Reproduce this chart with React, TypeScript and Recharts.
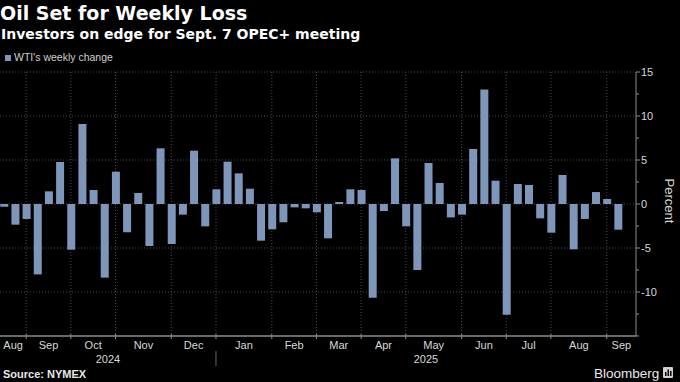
import { BarChart, Bar, XAxis, YAxis, CartesianGrid } from "recharts";

// weekly WTI % change, week ending Friday
const weeks = [
  "2024-08-16", "2024-08-23", "2024-08-30", "2024-09-06", "2024-09-13", "2024-09-20", "2024-09-27",
  "2024-10-04", "2024-10-11", "2024-10-18", "2024-10-25", "2024-11-01", "2024-11-08", "2024-11-15",
  "2024-11-22", "2024-11-29", "2024-12-06", "2024-12-13", "2024-12-20", "2024-12-27", "2025-01-03",
  "2025-01-10", "2025-01-17", "2025-01-24", "2025-01-31", "2025-02-07", "2025-02-14", "2025-02-21",
  "2025-02-28", "2025-03-07", "2025-03-14", "2025-03-21", "2025-03-28", "2025-04-04", "2025-04-11",
  "2025-04-18", "2025-04-25", "2025-05-02", "2025-05-09", "2025-05-16", "2025-05-23", "2025-05-30",
  "2025-06-06", "2025-06-13", "2025-06-20", "2025-06-27", "2025-07-04", "2025-07-11", "2025-07-18",
  "2025-07-25", "2025-08-01", "2025-08-08", "2025-08-15", "2025-08-22", "2025-08-29", "2025-09-05",
];

const changes = [
  -0.3, -2.35, -1.7, -8.0, 1.44, 4.77, -5.19, 9.09, 1.59, -8.37,
  3.67, -3.22, 1.25, -4.77, 6.33, -4.55, -1.21, 6.06, -2.54, 1.67,
  4.81, 3.48, 1.74, -4.17, -2.88, -2.08, -0.38, -0.49, -0.95, -3.9,
  0.23, 1.67, 1.59, -10.64, -0.8, 5.19, -2.54, -7.5, 4.66, 2.39,
  -1.52, -1.21, 6.25, 13.0, 2.65, -12.58, 2.27, 2.16, -1.63, -3.26,
  3.3, -5.15, -1.7, 1.36, 0.57, -2.92,
];

const monthLabels = ["Aug", "Sep", "Oct", "Nov", "Dec", "Jan", "Feb", "Mar", "Apr", "May", "Jun", "Jul", "Aug", "Sep"];
const yearLabels = ["2024", "2025"];
const yMajor = [15, 10, 5, 0, -5, -10];
const yTicks = [15, 12.5, 10, 7.5, 5, 2.5, 0, -2.5, -5, -7.5, -10, -12.5, -15];

const BAR = "#7e96ba";
const GRID = "#4a4a4a";
const AXIS = "#8c8c8c";
const FONT = "'Liberation Sans', Arial, sans-serif";
const TITLE_FONT = "'DejaVu Sans', sans-serif";

const X_MIN = -0.345;
const X_MAX = 56.62;

const data = weeks.map((w, i) => ({ i, week: w, change: changes[i] }));

// last week of each month -> month boundary
const boundaries: number[] = [];
for (let i = 0; i < weeks.length - 1; i++) {
  if (weeks[i].slice(5, 7) !== weeks[i + 1].slice(5, 7)) boundaries.push(i);
}
const edges = [X_MIN, ...boundaries, X_MAX];
const monthMids = monthLabels.map((_, k) => (edges[k] + edges[k + 1]) / 2);
const yearStart = boundaries.find((b) => weeks[b + 1].startsWith("2025")) as number;
const yearMids = [(X_MIN + yearStart) / 2, (yearStart + X_MAX) / 2];
const xTicks = [...boundaries, ...monthMids, ...yearMids];

function XTick(props: any) {
  const { x, y, payload } = props;
  const v = payload.value;
  const bi = boundaries.indexOf(v);
  if (bi >= 0) {
    return (
      <g>
        <line x1={x} x2={x} y1={y - 2} y2={y + 3} stroke={AXIS} strokeWidth={1} />
        {v === yearStart && <line x1={x} x2={x} y1={y + 15} y2={y + 30} stroke="#666" strokeWidth={1} />}
      </g>
    );
  }
  const mi = monthMids.indexOf(v);
  if (mi >= 0) {
    return (
      <text x={x} y={y + 12.5} textAnchor="middle" fill="#d8d8d8" fontSize={11} fontFamily={FONT}>
        {monthLabels[mi]}
      </text>
    );
  }
  const yi = yearMids.indexOf(v);
  if (yi >= 0) {
    return (
      <text x={x} y={y + 26.5} textAnchor="middle" fill="#d8d8d8" fontSize={11} fontFamily={FONT}>
        {yearLabels[yi]}
      </text>
    );
  }
  return null;
}

function YTick(props: any) {
  const { x, y, payload } = props;
  const v = payload.value;
  const major = yMajor.includes(v);
  return (
    <g>
      <line x1={x} x2={x + (major ? 4 : 3)} y1={y} y2={y} stroke={AXIS} strokeWidth={1} />
      {major && (
        <text x={x + 5} y={y} dy="0.36em" fill="#d8d8d8" fontSize={11} fontFamily={FONT}>
          {v}
        </text>
      )}
    </g>
  );
}

export default function App() {
  return (
    <div style={{ position: "absolute", left: 0, top: 0, width: 680, height: 382, background: "#000", overflow: "hidden" }}>
      <BarChart width={680} height={382} data={data} margin={{ top: 72, right: 0, bottom: 0, left: 0 }}>
        <CartesianGrid
          stroke={GRID}
          strokeDasharray="1 2"
          horizontalValues={yMajor}
          verticalValues={boundaries}
        />
        <XAxis
          dataKey="i"
          type="number"
          domain={[X_MIN, X_MAX]}
          ticks={xTicks}
          interval={0}
          height={46}
          tickSize={0}
          tickMargin={0}
          tickLine={false}
          axisLine={{ stroke: AXIS, strokeWidth: 1.5 }}
          tick={<XTick />}
        />
        <YAxis
          orientation="right"
          width={44}
          domain={[-15, 15]}
          ticks={yTicks}
          interval={0}
          tickSize={0}
          tickMargin={0}
          tickLine={false}
          axisLine={{ stroke: AXIS }}
          tick={<YTick />}
        />
        <Bar dataKey="change" fill={BAR} barSize={8} isAnimationActive={false} />
      </BarChart>
      <svg width={680} height={382} style={{ position: "absolute", left: 0, top: 0, pointerEvents: "none" }}>
        <text x={0} y={20} fill="#fff" fontSize={19} fontWeight="bold" fontFamily={TITLE_FONT}>
          Oil Set for Weekly Loss
        </text>
        <text x={1} y={38.5} fill="#fff" fontSize={14} fontWeight="bold" fontFamily={TITLE_FONT}>
          Investors on edge for Sept. 7 OPEC+ meeting
        </text>
        <rect x={5} y={55} width={6} height={6} fill={BAR} />
        <text x={14} y={61} fill="#cfcfcf" fontSize={10.5} fontFamily={FONT}>
          WTI's weekly change
        </text>
        <text transform="translate(665,201) rotate(90)" textAnchor="middle" fill="#d8d8d8" fontSize={13} fontFamily={FONT}>
          Percent
        </text>
        <text x={3} y={378} fill="#e8e8e8" fontSize={11} fontWeight="bold" fontFamily={FONT}>
          Source: NYMEX
        </text>
        <text x={594} y={377.5} fill="#e8e8e8" fontSize={13.5} fontFamily={FONT}>
          Bloomberg
        </text>
        <rect x={663} y={367} width={10} height={11} rx={1} fill="#d0d0d0" />
        <rect x={665} y={372} width={1.5} height={4} fill="#000" />
        <rect x={667.5} y={369.5} width={1.5} height={6.5} fill="#000" />
        <rect x={670} y={371} width={1.5} height={5} fill="#000" />
      </svg>
    </div>
  );
}
